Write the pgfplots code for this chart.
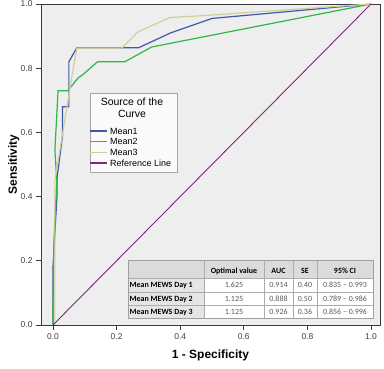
\documentclass[border=0pt]{standalone}
\usepackage{fontspec}
\setmainfont{Liberation Sans}
\newfontfamily\calibri{Carlito}
\usepackage{pgfplots}
\pgfplotsset{compat=1.18}

\definecolor{c1}{HTML}{3E58AC}
\definecolor{c2}{HTML}{2EB848}
\definecolor{c3}{HTML}{D3CE97}
\definecolor{c4}{HTML}{7C287D}
\definecolor{bgg}{HTML}{EEEEEE}
\definecolor{framec}{HTML}{3A3A3A}

\begin{document}
\begin{tikzpicture}
\begin{axis}[
  scale only axis, width=339bp, height=321bp,
  xmin=-0.0377, xmax=1.0283, ymin=0, ymax=1,
  axis background/.style={fill=bgg},
  axis line style={draw=framec, line width=0.8bp},
  xtick={0,0.2,0.4,0.6,0.8,1}, ytick={0,0.2,0.4,0.6,0.8,1},
  tick align=outside, major tick length=5bp, tick pos=left,
  tick style={framec, line width=0.8bp},
  tick label style={font=\fontsize{8.5}{10}\selectfont, text=black!75,
    /pgf/number format/fixed, /pgf/number format/fixed zerofill,
    /pgf/number format/precision=1, /pgf/number format/assume math mode=true},
  xlabel={1 - Specificity}, ylabel={Sensitivity},
  label style={font=\bfseries\fontsize{12}{14}\selectfont},
  xlabel style={at={(axis description cs:0.5,-0.1059)}, anchor=base},
  ylabel style={at={(axis description cs:-0.08,0.5)}, anchor=center},
]
\addplot[c1, line width=1.2bp] coordinates {
 (0,0) (0,0.18) (0.005,0.27) (0.013,0.41) (0.013,0.46) (0.03,0.59) (0.03,0.68)
 (0.05,0.68) (0.05,0.82) (0.075,0.864) (0.27,0.864) (0.37,0.91) (0.5,0.955) (1,1)};
\addplot[c2, line width=1.2bp] coordinates {
 (0,0) (0,0.05) (0.003,0.26) (0.012,0.45) (0.006,0.545) (0.016,0.73) (0.047,0.73)
 (0.079,0.77) (0.094,0.78) (0.14,0.82) (0.226,0.82) (0.31,0.866) (1,1)};
\addplot[c3, line width=1.2bp] coordinates {
 (0,0) (0.006,0) (0.006,0.45) (0.044,0.68) (0.069,0.83) (0.075,0.863) (0.217,0.863)
 (0.267,0.913) (0.368,0.958) (0.46,0.963) (1,1)};
\addplot[c4, line width=0.9bp] coordinates {(0,0) (1,1)};
\end{axis}

\begin{scope}[x=1bp,y=-1bp,shift={(-41bp,325bp)}]
% legend box
\draw[gray!70, fill=white!96!gray, line width=0.7bp] (90,93) rectangle (177,172);
\node[anchor=base, font=\fontsize{10.5}{12}\selectfont] at (132,106) {Source of the};
\node[anchor=base, font=\fontsize{10.5}{12}\selectfont] at (132,117.5) {Curve};
\draw[c1, line width=1.2bp] (90.5,131) -- (107,131);
\draw[c2, line width=1.2bp] (90.5,141.7) -- (107,141.7);
\draw[c3, line width=1.2bp] (90.5,152.4) -- (107,152.4);
\draw[c4, line width=1.2bp] (90.5,163.1) -- (107,163.1);
\begin{scope}[every node/.style={anchor=base west, inner xsep=0pt, font=\fontsize{9}{10}\selectfont}]
\node at (110,134.3) {Mean1};
\node at (110,145.0) {Mean2};
\node at (110,155.7) {Mean3};
\node at (110,166.4) {Reference Line};
\end{scope}
% table
\fill[gray!28] (128,260) rectangle (373,278);
\fill[gray!20] (128,278) rectangle (204,318);
\fill[white] (204,278) rectangle (373,318);
\draw[gray!65, line width=0.6bp] (128,278) -- (373,278) (128,292) -- (373,292) (128,305) -- (373,305);
\draw[gray!65, line width=0.6bp] (204,260) -- (204,318) (264,260) -- (264,318) (293,260) -- (293,318) (317,260) -- (317,318);
\draw[gray!75, line width=0.6bp] (128,260) rectangle (373,318);
\begin{scope}[every node/.style={font=\calibri\fontsize{8}{9}\selectfont}]
\node[anchor=base, font=\calibri\bfseries\fontsize{8}{9}\selectfont] at (234,273.5) {Optimal value};
\node[anchor=base, font=\calibri\bfseries\fontsize{8}{9}\selectfont] at (278.5,273.5) {AUC};
\node[anchor=base, font=\calibri\bfseries\fontsize{8}{9}\selectfont] at (305,273.5) {SE};
\node[anchor=base, font=\calibri\bfseries\fontsize{8}{9}\selectfont] at (345,273.5) {95\% CI};
\node[anchor=base west, inner xsep=1.5bp, font=\calibri\bfseries\fontsize{8}{9}\selectfont] at (128,288) {Mean MEWS Day 1};
\node[anchor=base west, inner xsep=1.5bp, font=\calibri\bfseries\fontsize{8}{9}\selectfont] at (128,301.5) {Mean MEWS Day 2};
\node[anchor=base west, inner xsep=1.5bp, font=\calibri\bfseries\fontsize{8}{9}\selectfont] at (128,314.5) {Mean MEWS Day 3};
\node[anchor=base, text=black!65] at (234,288) {1.625};
\node[anchor=base, text=black!65] at (278.5,288) {0.914};
\node[anchor=base, text=black!65] at (305,288) {0.40};
\node[anchor=base, text=black!65] at (345,288) {0.835 – 0.993};
\node[anchor=base, text=black!65] at (234,301.5) {1.125};
\node[anchor=base, text=black!65] at (278.5,301.5) {0.888};
\node[anchor=base, text=black!65] at (305,301.5) {0.50};
\node[anchor=base, text=black!65] at (345,301.5) {0.789 – 0.986};
\node[anchor=base, text=black!65] at (234,314.5) {1.125};
\node[anchor=base, text=black!65] at (278.5,314.5) {0.926};
\node[anchor=base, text=black!65] at (305,314.5) {0.36};
\node[anchor=base, text=black!65] at (345,314.5) {0.856 – 0.996};
\end{scope}
\end{scope}

\pgfresetboundingbox
\path[use as bounding box] (-41bp,-44bp) rectangle (343bp,325bp);
\end{tikzpicture}
\end{document}
